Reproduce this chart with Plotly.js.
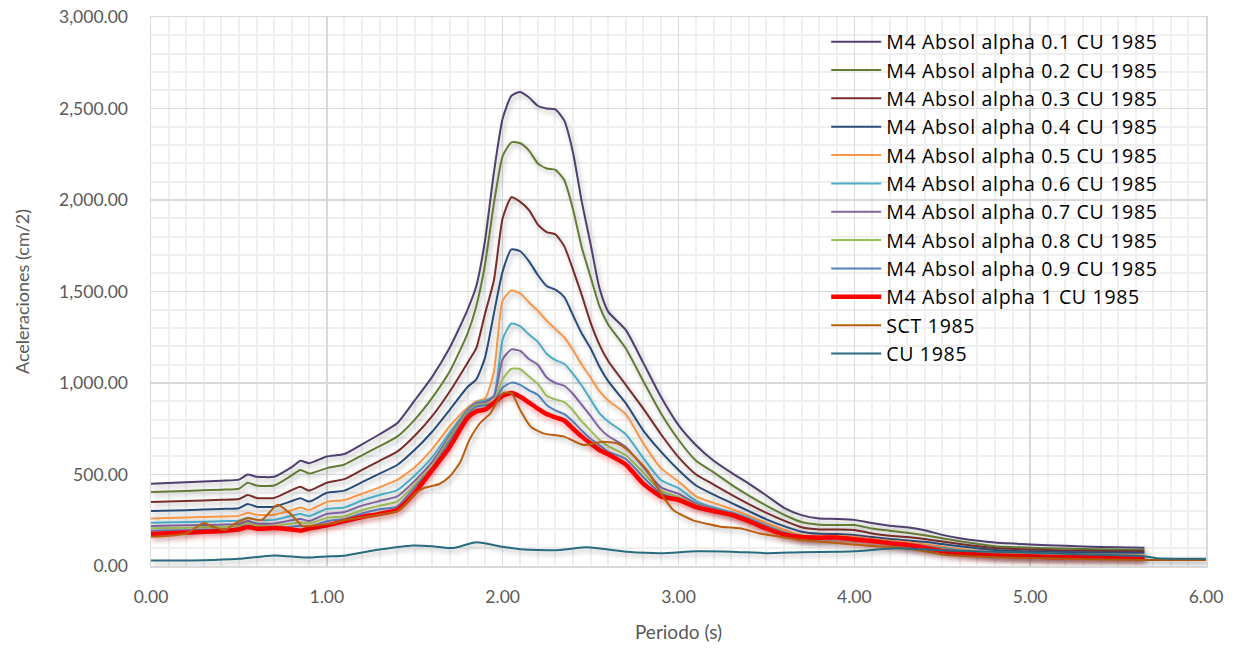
<!DOCTYPE html>
<html><head><meta charset="utf-8">
<script src="https://cdn.plot.ly/plotly-3.0.1.min.js"></script>
<style>body{margin:0;background:#fff}#chart{width:1241px;height:648px}
.legendtext{letter-spacing:0.7px}</style>
</head><body>
<svg width="0" height="0" style="position:absolute">
<defs>
<filter id="shGray" filterUnits="userSpaceOnUse" x="-300" y="-300" width="1800" height="1200">
<feDropShadow dx="2" dy="3" stdDeviation="2.4" flood-color="#000" flood-opacity="0.30"/>
</filter>
<filter id="shRed" filterUnits="userSpaceOnUse" x="-300" y="-300" width="1800" height="1200">
<feDropShadow dx="0" dy="2" stdDeviation="3" flood-color="#ff0000" flood-opacity="0.45"/>
</filter>
</defs>
</svg>
<div id="chart"></div>
<script>
// Period grid (s) for the M4 series
const periodM4 = [0,0.2,0.4,0.5,0.55,0.6,0.7,0.8,0.85,0.9,1.0,1.1,1.2,1.3,1.4,1.5,1.6,1.7,1.8,1.85,1.9,1.95,2.0,2.05,2.1,2.15,2.2,2.25,2.3,2.35,2.4,2.45,2.5,2.55,2.6,2.7,2.8,2.9,3.0,3.1,3.2,3.3,3.4,3.5,3.6,3.7,3.8,3.9,4.0,4.1,4.2,4.3,4.4,4.5,4.6,4.8,5.0,5.2,5.4,5.65];

const alpha01 = [450,458,466,472,500,488,488,540,575,562,598,612,665,720,780,905,1035,1195,1400,1530,1780,2150,2445,2570,2590,2560,2515,2500,2495,2435,2260,1990,1760,1520,1390,1290,1110,925,770,660,575,510,450,385,318,278,260,257,252,235,220,212,195,170,152,128,118,110,104,100];
const alpha02 = [405,410,417,422,455,440,440,495,525,505,535,555,605,655,707,800,920,1065,1270,1420,1650,1980,2240,2315,2310,2270,2200,2172,2165,2109,1950,1740,1580,1420,1320,1190,1010,835,690,575,512,445,385,330,280,240,226,224,224,205,193,182,168,152,135,108,100,95,92,88];
const alpha03 = [350,355,362,366,388,372,372,415,433,412,455,475,525,575,625,712,820,955,1110,1190,1380,1560,1900,2015,1990,1945,1865,1825,1812,1748,1620,1480,1330,1210,1120,990,860,720,595,500,445,390,338,290,248,212,200,200,197,178,165,158,148,134,120,98,90,85,82,80];
const alpha04 = [300,305,312,316,339,324,324,355,370,352,400,412,458,505,552,635,735,855,978,1020,1140,1380,1610,1730,1720,1665,1590,1530,1510,1470,1370,1270,1190,1090,1010,890,740,625,525,440,390,345,300,255,218,187,176,175,170,158,147,140,132,120,108,88,80,76,74,72];
const alpha05 = [260,265,270,274,291,280,280,305,319,306,350,361,395,430,470,540,640,765,865,900,915,1060,1450,1505,1490,1440,1395,1340,1295,1250,1180,1100,1030,955,905,830,670,535,462,380,345,312,275,235,198,168,161,163,160,148,138,130,118,105,92,72,65,62,60,58];
const alpha06 = [237,240,245,248,264,252,252,275,284,273,312,320,358,388,415,495,595,730,855,893,905,930,1240,1325,1310,1265,1225,1160,1125,1105,1050,985,910,835,790,720,590,470,425,355,320,295,262,222,186,162,155,155,153,142,132,122,110,98,85,66,58,55,53,52];
const alpha07 = [219,222,226,230,246,232,232,250,257,246,285,295,330,355,380,465,570,712,848,888,895,925,1130,1184,1175,1130,1100,1030,1000,985,940,880,820,755,710,650,540,430,395,340,310,285,255,215,180,158,152,152,150,138,128,118,106,94,82,62,55,52,50,49];
const alpha08 = [206,209,214,218,233,220,220,232,239,233,263,272,305,330,352,445,550,700,840,880,885,905,1020,1078,1075,1035,995,930,910,895,850,790,740,690,655,605,510,410,378,332,305,280,250,212,177,155,150,150,148,136,126,115,103,91,78,58,51,48,47,46];
const alpha09 = [193,196,200,205,220,208,208,215,220,215,245,257,287,310,325,430,538,685,830,872,878,895,975,1002,990,960,935,880,850,830,790,740,695,660,625,585,485,395,368,327,302,277,245,208,174,152,148,148,145,133,123,112,100,88,75,55,48,45,44,43];
const alpha10 = [175,183,191,200,213,204,207,200,193,205,222,245,268,285,306,400,525,652,810,845,855,891,930,945,925,893,860,830,812,795,750,707,670,634,610,555,450,380,362,322,300,280,245,205,172,158,155,156,145,136,125,115,100,82,70,58,52,48,46,44];

const periodSCT = [0,0.1,0.2,0.3,0.35,0.42,0.48,0.55,0.63,0.72,0.8,0.86,0.95,1.03,1.1,1.2,1.3,1.4,1.45,1.5,1.55,1.64,1.7,1.76,1.81,1.87,1.93,2.0,2.05,2.1,2.16,2.23,2.35,2.46,2.57,2.65,2.71,2.82,2.9,2.97,3.08,3.24,3.35,3.46,3.58,3.69,3.81,3.92,4.03,4.15,4.26,4.4,4.53,4.7,4.87,5.2,5.66,6.0];
const sct1985 = [160,165,178,235,215,197,233,261,251,335,279,219,224,233,251,265,280,300,340,395,425,448,490,570,688,780,834,944,945,852,761,725,707,661,679,670,634,525,397,306,251,215,206,178,160,142,133,124,115,106,102,80,60,52,47,40,33,33];

const periodCU = [0,0.3,0.5,0.7,0.88,1.0,1.11,1.3,1.49,1.6,1.72,1.85,2.0,2.1,2.2,2.33,2.48,2.6,2.71,2.9,3.1,3.3,3.5,3.7,3.9,4.0,4.24,4.45,4.69,5.1,5.4,5.64,5.72,6.0];
const cu1985 = [30,32,40,58,46,52,58,90,112,108,98,130,105,92,87,88,102,90,78,70,80,78,70,75,78,80,97,88,80,70,62,55,42,40];

const seriesNames = ["M4 Absol alpha 0.1 CU 1985","M4 Absol alpha 0.2 CU 1985","M4 Absol alpha 0.3 CU 1985","M4 Absol alpha 0.4 CU 1985","M4 Absol alpha 0.5 CU 1985","M4 Absol alpha 0.6 CU 1985","M4 Absol alpha 0.7 CU 1985","M4 Absol alpha 0.8 CU 1985","M4 Absol alpha 0.9 CU 1985","M4 Absol alpha 1 CU 1985","SCT 1985","CU 1985"];
const seriesColors = ["#4f3f6e","#627b36","#772d2b","#2b4c77","#f79646","#4bacc6","#8064a2","#9bbb59","#4f81bd","#ff0000","#b85f0e","#2a6b7c"];
const seriesX = [periodM4,periodM4,periodM4,periodM4,periodM4,periodM4,periodM4,periodM4,periodM4,periodM4,periodSCT,periodCU];
const seriesY = [alpha01,alpha02,alpha03,alpha04,alpha05,alpha06,alpha07,alpha08,alpha09,alpha10,sct1985,cu1985];

const data = seriesNames.map((n,i)=>({
  type:'scatter', mode:'lines', name:n, x:seriesX[i], y:seriesY[i],
  legendgroup:'g'+i, legendrank:i+1,
  line:{color:seriesColors[i], width:(i===9?4.5:2), shape:'spline', smoothing:0.55}
}));

const font = "Lato, 'Open Sans', sans-serif";
const legFont = "'Open Sans', sans-serif";
const layout = {
  width:1241, height:648,
  margin:{l:151, r:35, t:17, b:82},
  paper_bgcolor:'#fff', plot_bgcolor:'#fff',
  font:{family:font, color:'#595959', size:17.5},
  showlegend:true,
  legend:{x:0.64, y:0.99, xanchor:'left', yanchor:'top', bgcolor:'rgba(0,0,0,0)',
    font:{family:legFont, size:19.5, color:'#000'}, tracegroupgap:0, traceorder:'grouped', itemwidth:50},
  xaxis:{range:[0,6], dtick:1, tick0:0, tickformat:'.2f', showgrid:true, gridcolor:'#d9d9d9', gridwidth:1.5,
    zeroline:false, showline:true, linecolor:'#d9d9d9', linewidth:1.5, mirror:true, ticks:'',
    ticklabelstandoff:14,
    minor:{dtick:0.1, showgrid:true, gridcolor:'#efefef', gridwidth:2},
    title:{text:'Periodo (s)', font:{size:19, color:'#595959', family:font}, standoff:20}},
  yaxis:{range:[0,3000], dtick:500, tick0:0, tickformat:',.2f', showgrid:true, gridcolor:'#d9d9d9', gridwidth:1.5,
    zeroline:false, showline:true, linecolor:'#d9d9d9', linewidth:1.5, mirror:true, ticks:'',
    ticklabelstandoff:18,
    minor:{dtick:100, showgrid:true, gridcolor:'#efefef', gridwidth:2},
    title:{text:'Aceleraciones (cm/2)', font:{size:18, color:'#595959', family:font}, standoff:24}}
};

Plotly.newPlot('chart', data, layout, {displayModeBar:false, staticPlot:true}).then(gd=>{
  const groups = gd.querySelectorAll('.scatterlayer .trace');
  groups.forEach((g,k)=>{
    g.style.filter = (k===9) ? 'url(#shRed)' : 'url(#shGray)';
  });
});
</script>
</body></html>
